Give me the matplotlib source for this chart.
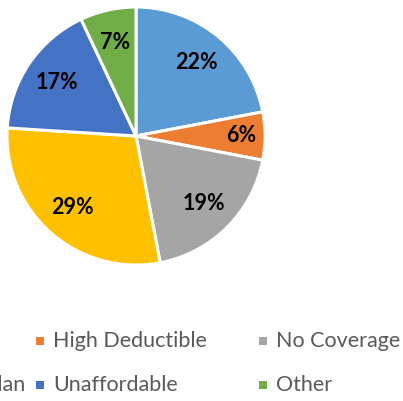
import matplotlib
matplotlib.use("Agg")
import matplotlib.pyplot as plt
from matplotlib.patches import Rectangle

# shares of each reason, in percent
labels = ["Lost Job", "High Deductible", "No Coverage",
          "Employer Has No Plan", "Unaffordable", "Other"]
shares = [22, 6, 19, 29, 17, 7]
colors = ["#5B9BD5", "#ED7D31", "#A5A5A5", "#FFC000", "#4472C4", "#70AD47"]

plt.rcParams['font.family'] = ['Lato', 'DejaVu Sans']

W, H = 403, 401
fig = plt.figure(figsize=(W / 100, H / 100), dpi=100)

# pie centred at (136, 136) px with radius 129 px
cx, cy, r = 136, 136, 129
ax = fig.add_axes([(cx - r) / W, 1 - (cy + r) / H, 2 * r / W, 2 * r / H])
wedges, texts, autotexts = ax.pie(
    shares, colors=colors, startangle=90, counterclock=False,
    autopct="%d%%", pctdistance=0.74, radius=1.0,
    wedgeprops=dict(edgecolor="white", linewidth=2.2),
    textprops=dict(fontsize=15.5, fontweight="bold", color="black"))
ax.set_xlim(-1.0, 1.0)
ax.set_ylim(-1.0, 1.0)
ax.set_aspect("equal")
ax.axis("off")

# the narrow orange slice carries its label further out
x, y = autotexts[1].get_position()
autotexts[1].set_position((x * 1.1, y * 1.1))

# legend in three columns, two rows; first column runs off the left edge
col_x = [40, 263]
row_y = [341, 385]
handles = []
for i, (lab, col) in enumerate(zip(labels, colors)):
    row, c = divmod(i, 3)
    my = row_y[row]
    t = fig.text(0, 1 - my / H, lab, fontsize=15.5, color="#595959",
                 ha="left", va="center")
    handles.append((t, col, c, my))

# first column: its longest label ends just past the left edge
renderer = fig.canvas.get_renderer()
first_w = max(h[0].get_window_extent(renderer).width for h in handles if h[2] == 0)
first_x = 25 - first_w - 13
for t, col, c, my in handles:
    mx = first_x if c == 0 else col_x[c - 1]
    t.set_x((mx + 13) / W)
    fig.patches.append(Rectangle(((mx - 4) / W, 1 - (my + 4) / H), 8 / W, 8 / H,
                                 transform=fig.transFigure, facecolor=col,
                                 edgecolor="none"))

fig.savefig("out.png", dpi=100, facecolor="white")
